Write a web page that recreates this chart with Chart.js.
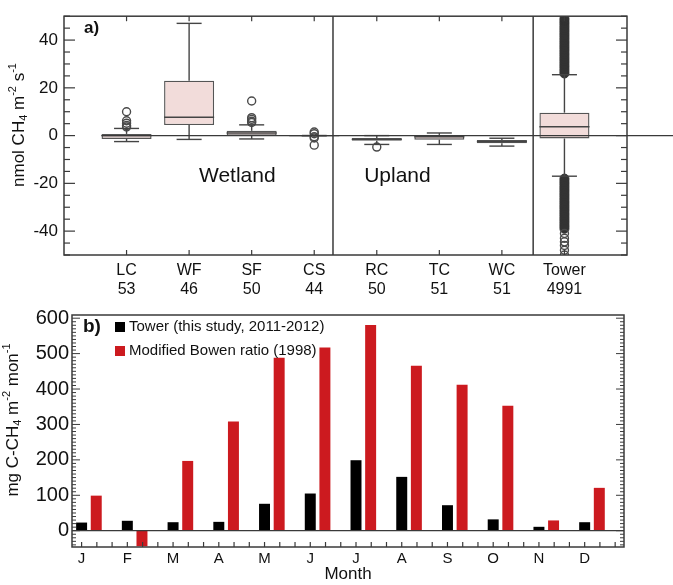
<!DOCTYPE html>
<html>
<head>
<meta charset="utf-8">
<script src="https://cdn.jsdelivr.net/npm/chart.js@4.4.0/dist/chart.umd.min.js"></script>
<style>
  body { margin: 0; background: #fff; width: 673px; height: 585px; overflow: hidden; position: relative; }
  canvas { position: absolute; left: 0; }
</style>
</head>
<body>
<canvas id="boxChart" width="673" height="300" style="top:0"></canvas>
<canvas id="barChart" width="673" height="285" style="top:300px"></canvas>
<script>
const FONT = "'Liberation Sans', Arial, Helvetica, sans-serif";
const INK = '#111';
const LINE = '#3a3a3a';

// a) chamber sites + tower, nmol CH4 m-2 s-1
const sites = ['LC', 'WF', 'SF', 'CS', 'RC', 'TC', 'WC', 'Tower'];
const counts = [53, 46, 50, 44, 50, 51, 51, 4991];
const whiskerLow = [-2.5, -1.6, -1.4, 0, -3.7, -3.7, -4.4, -17];
const q1 = [-1.4, 4.4, 0, 0, -2.2, -1.7, -3.2, -1.2];
const median = [0, 7.7, 1.1, 0, -1.6, -0.5, -2.5, 3.7];
const q3 = [0.7, 23, 2, 0, -1, 0.3, -1.8, 9.6];
const whiskerHigh = [3, 47, 4.5, 0, 0, 1.1, -1.1, 25.5];
// single outliers (hollow circles)
const outliers = [
  [10, 6.2, 5.2, 4.2, 3.6],
  [],
  [14.5, 7.5, 6.8, 6, 5.5],
  [1.5, 0.8, -0.5, -1, -4],
  [-4.8],
  [],
  [],
  [-41, -43, -44.5, -46, -48, -50]
];
// tower outliers so dense they merge into a solid column
const towerCloud = [26, 27, 28, 29, 30, 31, 32, 33, 34, 35, 36, 37, 38, 39, 40, 41, 42, 43, 44, 45,
  46, 47, 48, 49, -18, -19, -20, -21, -22, -23, -24, -25, -26, -27, -28, -29, -30, -31, -32, -33,
  -34, -35, -36, -37, -38, -39];
const yTicksA = [-40, -20, 0, 20, 40];

// b) monthly totals, mg C-CH4 m-2 mon-1
const months = ['J', 'F', 'M', 'A', 'M', 'J', 'J', 'A', 'S', 'O', 'N', 'D'];
const tower = [23, 28, 24, 25, 76, 105, 199, 152, 72, 32, 11, 24];
const bowen = [99, -44, 197, 308, 488, 517, 581, 466, 412, 353, 29, 121];
const yTicksB = [0, 100, 200, 300, 400, 500, 600];

function line(ctx, x1, y1, x2, y2) {
  ctx.beginPath();
  ctx.moveTo(x1, y1);
  ctx.lineTo(x2, y2);
  ctx.stroke();
}

// axis title with sub/superscripts, rotated
function drawRotatedTitle(ctx, parts, cx, cy, size) {
  ctx.save();
  ctx.translate(cx, cy);
  ctx.rotate(-Math.PI / 2);
  ctx.fillStyle = INK;
  ctx.textBaseline = 'middle';
  const small = Math.round(size * 0.62);
  const fontFor = s => (s ? small : size) + 'px ' + FONT;
  let total = 0;
  parts.forEach(([t, s]) => { ctx.font = fontFor(s); total += ctx.measureText(t).width; });
  let xx = -total / 2;
  parts.forEach(([t, s]) => {
    ctx.font = fontFor(s);
    const dy = s < 0 ? size * 0.32 : s > 0 ? -size * 0.36 : 0;
    ctx.fillText(t, xx, dy);
    xx += ctx.measureText(t).width;
  });
  ctx.restore();
}

const boxExtras = {
  id: 'boxExtras',
  afterDatasetsDraw(chart) {
    const { ctx, scales: { x, y } } = chart;
    const meta = chart.getDatasetMeta(0);
    ctx.save();
    ctx.strokeStyle = '#444';
    ctx.lineWidth = 1.4;
    meta.data.forEach((bar, i) => {
      const cx = bar.x, half = bar.width / 2, cap = bar.width * 0.25;
      line(ctx, cx, y.getPixelForValue(q3[i]), cx, y.getPixelForValue(whiskerHigh[i]));
      line(ctx, cx, y.getPixelForValue(q1[i]), cx, y.getPixelForValue(whiskerLow[i]));
      line(ctx, cx - cap, y.getPixelForValue(whiskerHigh[i]), cx + cap, y.getPixelForValue(whiskerHigh[i]));
      line(ctx, cx - cap, y.getPixelForValue(whiskerLow[i]), cx + cap, y.getPixelForValue(whiskerLow[i]));
      line(ctx, cx - half, y.getPixelForValue(median[i]), cx + half, y.getPixelForValue(median[i]));
    });
    // zero line runs out past the frame
    ctx.strokeStyle = LINE;
    ctx.lineWidth = 1.3;
    const y0 = y.getPixelForValue(0);
    line(ctx, x.getPixelForValue(0.6), y0, chart.width, y0);
    ctx.restore();
  },
  afterDraw(chart) {
    const { ctx, chartArea: a, scales: { x, y } } = chart;
    ctx.save();
    ctx.strokeStyle = LINE;
    ctx.lineWidth = 1.5;
    ctx.strokeRect(a.left, a.top, a.right - a.left, a.bottom - a.top);
    [4.3, 7.5].forEach(v => line(ctx, x.getPixelForValue(v), a.top, x.getPixelForValue(v), a.bottom));
    ctx.lineWidth = 1.2;
    for (let v = -50; v <= 50; v += 5) {
      const py = y.getPixelForValue(v);
      const len = v % 20 === 0 ? 11 : 6;
      line(ctx, a.left, py, a.left + len, py);
      line(ctx, a.right, py, a.right - len, py);
    }
    x.ticks.forEach(t => {
      const px = x.getPixelForValue(t.value);
      line(ctx, px, a.top, px, a.top + 5);
      line(ctx, px, a.bottom, px, a.bottom - 5);
    });
    ctx.fillStyle = INK;
    ctx.textBaseline = 'middle';
    ctx.textAlign = 'center';
    ctx.font = '21px ' + FONT;
    ctx.fillText('Wetland', x.getPixelForValue(2.77), y.getPixelForValue(-17));
    ctx.fillText('Upland', x.getPixelForValue(5.33), y.getPixelForValue(-17));
    ctx.textAlign = 'left';
    ctx.font = 'bold 17px ' + FONT;
    ctx.fillText('a)', x.getPixelForValue(0.32), y.getPixelForValue(45));
    drawRotatedTitle(ctx, [['nmol CH', 0], ['4', -1], [' m', 0], ['-2', 1], [' s', 0], ['-1', 1]], 19, 125, 17);
    ctx.restore();
  }
};

const outlierPoints = [];
outliers.forEach((list, i) => list.forEach(v => outlierPoints.push({ x: i + 1, y: v })));
const towerIdx = sites.indexOf('Tower') + 1;

new Chart(document.getElementById('boxChart'), {
  type: 'bar',
  data: {
    datasets: [
      {
        label: 'box',
        data: sites.map((s, i) => ({ x: i + 1, y: [q1[i], q3[i]] })),
        backgroundColor: '#f2dcda',
        borderColor: '#555',
        borderWidth: 1.4,
        borderSkipped: false,
        categoryPercentage: 1,
        barPercentage: 0.8
      },
      {
        type: 'scatter',
        label: 'outliers',
        data: outlierPoints,
        pointStyle: 'circle',
        pointRadius: 4,
        borderWidth: 1.4,
        borderColor: '#4a4a4a',
        backgroundColor: 'rgba(0,0,0,0)'
      },
      {
        type: 'scatter',
        label: 'tower outliers',
        data: towerCloud.map(v => ({ x: towerIdx, y: v })),
        pointStyle: 'circle',
        pointRadius: 4.5,
        borderWidth: 1,
        borderColor: '#333',
        backgroundColor: '#333'
      }
    ]
  },
  options: {
    responsive: false,
    animation: false,
    layout: { padding: { top: 12, right: 46, left: 0, bottom: 0 } },
    plugins: { legend: { display: false }, tooltip: { enabled: false } },
    scales: {
      x: {
        type: 'linear', min: 0, max: 9, offset: false,
        grid: { display: false, drawTicks: false }, border: { display: false },
        afterBuildTicks: s => { s.ticks = sites.map((n, i) => ({ value: i + 1 })); },
        afterFit: s => { s.height = 45; },
        ticks: {
          autoSkip: false, maxRotation: 0, padding: 6, color: INK,
          font: { family: FONT, size: 16, lineHeight: 1.2 },
          callback: v => { const i = Math.round(v) - 1; return [sites[i], String(counts[i])]; }
        }
      },
      y: {
        min: -50, max: 50,
        grid: { display: false, drawTicks: false }, border: { display: false },
        afterBuildTicks: s => { s.ticks = yTicksA.map(v => ({ value: v })); },
        afterFit: s => { s.width = 64; },
        ticks: { padding: 6, color: INK, font: { family: FONT, size: 17 } }
      }
    }
  },
  plugins: [boxExtras]
});

const barExtras = {
  id: 'barExtras',
  afterDatasetsDraw(chart) {
    const { ctx, chartArea: a, scales: { y } } = chart;
    ctx.save();
    ctx.strokeStyle = LINE;
    ctx.lineWidth = 1.3;
    const y0 = y.getPixelForValue(0);
    line(ctx, a.left, y0, a.right, y0);
    ctx.restore();
  },
  afterDraw(chart) {
    const { ctx, chartArea: a, scales: { x, y } } = chart;
    ctx.save();
    ctx.strokeStyle = LINE;
    ctx.lineWidth = 1.5;
    ctx.strokeRect(a.left, a.top, a.right - a.left, a.bottom - a.top);
    ctx.lineWidth = 1;
    for (let v = -40; v <= 600; v += 10) {
      const py = y.getPixelForValue(v);
      const len = v % 100 === 0 ? 8 : 4;
      line(ctx, a.left, py, a.left + len, py);
      line(ctx, a.right, py, a.right - len, py);
    }
    // month ticks plus two minor ticks per month
    ctx.lineWidth = 1.2;
    x.ticks.forEach(t => {
      for (let k = 0; k < 3; k++) {
        const px = x.getPixelForValue(t.value + k / 3);
        line(ctx, px, a.bottom, px, a.bottom - 5);
      }
    });
    // legend
    ctx.fillStyle = INK;
    ctx.textBaseline = 'middle';
    ctx.textAlign = 'left';
    ctx.font = 'bold 19px ' + FONT;
    ctx.fillText('b)', a.left + 11, a.top + 12);
    ctx.font = '15px ' + FONT;
    chart.data.datasets.forEach((ds, i) => {
      const cy = a.top + 12 + i * 24;
      ctx.fillStyle = ds.backgroundColor;
      ctx.fillRect(a.left + 43, cy - 5, 10, 10);
      ctx.fillStyle = INK;
      ctx.fillText(ds.label, a.left + 57, cy);
    });
    drawRotatedTitle(ctx, [['mg C-CH', 0], ['4', -1], [' m', 0], ['-2', 1], [' mon', 0], ['-1', 1]], 13, 120, 17);
    ctx.restore();
  }
};

new Chart(document.getElementById('barChart'), {
  type: 'bar',
  data: {
    datasets: [
      {
        label: 'Tower (this study, 2011-2012)',
        data: months.map((m, i) => ({ x: i, y: tower[i] })),
        backgroundColor: '#000'
      },
      {
        label: 'Modified Bowen ratio (1998)',
        data: months.map((m, i) => ({ x: i, y: bowen[i] })),
        backgroundColor: '#cc1a1f'
      }
    ]
  },
  options: {
    responsive: false,
    animation: false,
    categoryPercentage: 0.64,
    barPercentage: 0.75,
    layout: { padding: { top: 9, right: 49, left: 0, bottom: 0 } },
    plugins: { legend: { display: false }, tooltip: { enabled: false } },
    scales: {
      x: {
        type: 'linear', min: -0.37, max: 11.7, offset: false,
        grid: { display: false, drawTicks: false }, border: { display: false },
        afterBuildTicks: s => { s.ticks = months.map((m, i) => ({ value: i - 0.16 })); },
        afterFit: s => { s.height = 38; },
        title: { display: true, text: 'Month', color: INK, font: { family: FONT, size: 17 }, padding: { top: 0, bottom: 0 } },
        ticks: {
          autoSkip: false, maxRotation: 0, padding: 3, color: INK,
          font: { family: FONT, size: 15 },
          callback: (v, idx) => months[idx]
        }
      },
      y: {
        min: -46, max: 609,
        grid: { display: false, drawTicks: false }, border: { display: false },
        afterBuildTicks: s => { s.ticks = yTicksB.map(v => ({ value: v })); },
        afterFit: s => { s.width = 72; },
        ticks: { padding: 3, color: INK, font: { family: FONT, size: 20 } }
      }
    }
  },
  plugins: [barExtras]
});
</script>
</body>
</html>
